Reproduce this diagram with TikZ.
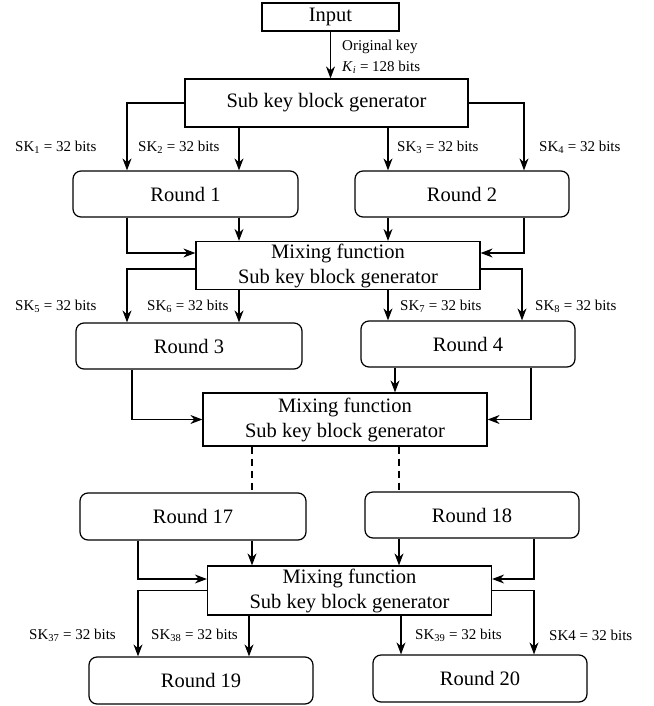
\documentclass[tikz,border=0pt]{standalone}
\usepackage{fontspec}
\setmainfont{Liberation Serif}
\usepackage{tikz}
\usetikzlibrary{arrows.meta, positioning, calc}

\begin{document}
\begin{tikzpicture}[x=1pt, y=-1pt,
    box/.style={draw, line width=1.2pt, inner sep=0pt, align=center, font=\fontsize{20.5}{25}\selectfont},
    roundbox/.style={box, rounded corners=8pt, minimum height=46pt},
    mixbox/.style={box, minimum width=284pt, minimum height=48pt},
    link/.style={line width=1.2pt, -{Stealth[length=12pt, width=9pt]}},
    plain/.style={line width=1.2pt},
    keylabel/.style={anchor=west, inner sep=0pt, font=\fontsize{15}{18}\selectfont}]

      \useasboundingbox (0,0) rectangle (653,706);

      % Input and first generator
      \node[box, minimum width=137pt, minimum height=28pt] (input) at (330.5,17) {Input};
      \node[box, minimum width=283pt, minimum height=48pt] (skbg) at (326.5,103) {Sub key block generator};
      \draw[link] (input.south) -- (input.south |- skbg.north);
      \node[keylabel] (origkey) at (342,47) {Original key};
      \node[keylabel] (keylen) at (342,67) {\textit{K}\textsubscript{\textit{i}} = 128 bits};

      % Rounds 1 and 2
      \node[roundbox, minimum width=225pt] (r1) at (185.5,194) {Round 1};
      \node[roundbox, minimum width=214pt] (r2) at (462,194) {Round 2};
      \draw[link] (skbg.west) -| ([xshift=-58.5pt]r1.north);
      \draw[link] ([xshift=53.5pt]r1.north |- skbg.south) -- ([xshift=53.5pt]r1.north);
      \draw[link] ([xshift=-74pt]r2.north |- skbg.south) -- ([xshift=-74pt]r2.north);
      \draw[link] (skbg.east) -| ([xshift=62pt]r2.north);
      \node[keylabel] (sk1) at (15,147) {SK\textsubscript{1} = 32 bits};
      \node[keylabel] (sk2) at (138,147) {SK\textsubscript{2} = 32 bits};
      \node[keylabel] (sk3) at (397,147) {SK\textsubscript{3} = 32 bits};
      \node[keylabel] (sk4) at (539,147) {SK\textsubscript{4} = 32 bits};

      % First mixing function
      \node[mixbox] (mixA) at (338,265.5) {Mixing function\\Sub key block generator};
      \draw[link] ([xshift=-58.5pt]r1.south) |- ([yshift=12.5pt]mixA.west);
      \draw[link] ([xshift=53.5pt]r1.south) -- ([xshift=53.5pt]r1.south |- mixA.north);
      \draw[link] ([xshift=-74pt]r2.south) -- ([xshift=-74pt]r2.south |- mixA.north);
      \draw[link] ([xshift=62pt]r2.south) |- ([yshift=12.5pt]mixA.east);

      % Rounds 3 and 4
      \node[roundbox, minimum width=226pt] (r3) at (189,346) {Round 3};
      \node[roundbox, minimum width=214pt] (r4) at (468,344) {Round 4};
      \draw[link] ([yshift=-3.5pt]mixA.west) -| ([xshift=-62pt]r3.north);
      \draw[link] ([xshift=50pt]r3.north |- mixA.south) -- ([xshift=50pt]r3.north);
      \draw[link] ([xshift=-80pt]r4.north |- mixA.south) -- ([xshift=-80pt]r4.north);
      \draw[link] ([yshift=-3.5pt]mixA.east) -| ([xshift=54pt]r4.north);
      \node[keylabel] (sk5) at (15,306) {SK\textsubscript{5} = 32 bits};
      \node[keylabel] (sk6) at (147,306) {SK\textsubscript{6} = 32 bits};
      \node[keylabel] (sk7) at (400,306) {SK\textsubscript{7} = 32 bits};
      \node[keylabel] (sk8) at (535,306) {SK\textsubscript{8} = 32 bits};

      % Second mixing function
      \node[mixbox, minimum height=53pt] (mixB) at (345,419.5) {Mixing function\\Sub key block generator};
      \draw[link] ([xshift=-57pt]r3.south) |- (mixB.west);
      \draw[link] ([xshift=-73pt]r4.south) -- ([xshift=-73pt]r4.south |- mixB.north);
      \draw[link] ([xshift=63pt]r4.south) |- (mixB.east);

      % Rounds 17 and 18 (rounds skipped)
      \node[roundbox, minimum width=226pt, minimum height=47pt] (r17) at (193,516.5) {Round 17};
      \node[roundbox, minimum width=214pt] (r18) at (472,515) {Round 18};
      \draw[plain, dash pattern=on 7pt off 5pt] ([xshift=59pt]r17.north |- mixB.south) -- ([xshift=59pt]r17.north);
      \draw[plain, dash pattern=on 7pt off 5pt] ([xshift=-73pt]r18.north |- mixB.south) -- ([xshift=-73pt]r18.north);

      % Last mixing function
      \node[mixbox, minimum height=49pt] (mixC) at (349.5,590.5) {Mixing function\\Sub key block generator};
      \draw[link] ([xshift=-55pt]r17.south) |- ([yshift=11.5pt]mixC.west);
      \draw[link] ([xshift=59pt]r17.south) -- ([xshift=59pt]r17.south |- mixC.north);
      \draw[link] ([xshift=-73pt]r18.south) -- ([xshift=-73pt]r18.south |- mixC.north);
      \draw[link] ([xshift=62pt]r18.south) |- ([yshift=11.5pt]mixC.east);

      % Rounds 19 and 20
      \node[roundbox, minimum width=224pt, minimum height=47pt] (r19) at (201,680.5) {Round 19};
      \node[roundbox, minimum width=214pt, minimum height=47pt] (r20) at (480,678.5) {Round 20};
      \draw[link] (mixC.west) -| ([xshift=-63pt]r19.north);
      \draw[link] ([xshift=48pt]r19.north |- mixC.south) -- ([xshift=48pt]r19.north);
      \draw[link] ([xshift=-79pt]r20.north |- mixC.south) -- ([xshift=-79pt]r20.north);
      \draw[link] (mixC.east) -| ([xshift=54pt]r20.north);
      \node[keylabel] (sk37) at (29,635) {SK\textsubscript{37} = 32 bits};
      \node[keylabel] (sk38) at (151,635) {SK\textsubscript{38} = 32 bits};
      \node[keylabel] (sk39) at (415,635) {SK\textsubscript{39} = 32 bits};
      \node[keylabel] (sk40) at (549,635) {SK4 = 32 bits};
    \end{tikzpicture}
\end{document}
